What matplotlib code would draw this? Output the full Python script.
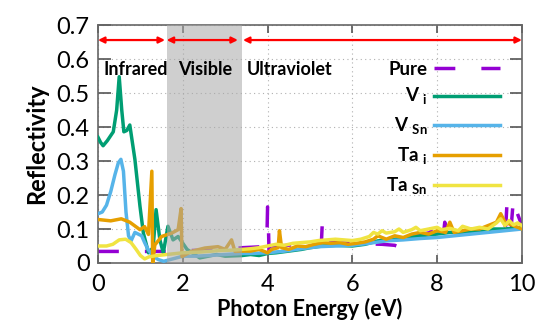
import matplotlib
matplotlib.use("Agg")
import matplotlib.pyplot as plt

plt.rcParams['font.family'] = ['Lato', 'DejaVu Sans']
plt.rcParams['mathtext.fontset'] = 'custom'
plt.rcParams['mathtext.rm'] = 'Lato'
plt.rcParams['mathtext.bf'] = 'Lato:bold'

# ---- data ----
pure_x = [0, 1.0, 1.5, 2.0, 2.5, 3.0, 3.4, 3.9, 3.98, 4.0, 4.02, 4.04, 4.06, 4.3, 4.7, 5.0,
          5.27, 5.29, 5.31, 5.33, 5.6, 6.0, 6.4, 6.7, 7.0, 7.15, 7.25, 7.35, 7.5, 7.85, 7.88,
          7.92, 7.95, 8.15, 8.18, 8.22, 8.25, 8.5, 9.0, 9.4, 9.62, 9.65, 9.7, 9.75, 9.8, 9.85, 10]
pure_y = [0.034, 0.034, 0.034, 0.036, 0.038, 0.04, 0.045, 0.048, 0.05, 0.165, 0.11, 0.0, 0.05,
          0.05, 0.055, 0.055, 0.06, 0.115, 0.075, 0.06, 0.06, 0.058, 0.056, 0.055, 0.052, 0.045,
          0.04, 0.06, 0.08, 0.09, 0.12, 0.105, 0.09, 0.085, 0.12, 0.062, 0.08, 0.09, 0.095, 0.1,
          0.11, 0.18, 0.14, 0.11, 0.19, 0.16, 0.11]

vi_x = [0, 0.06, 0.12, 0.22, 0.36, 0.44, 0.5, 0.56, 0.61, 0.68, 0.75, 0.87, 0.99, 1.07, 1.19,
        1.3, 1.37, 1.46, 1.54, 1.65, 1.77, 1.89, 2.1, 2.4, 2.8, 3.0, 3.4,
        3.6, 3.8, 4.0, 4.2, 4.5, 4.8, 5.0, 5.3, 5.6, 6.0, 6.3, 6.6, 7.0, 7.3, 7.6, 8.0, 8.3,
        8.6, 9.0, 9.3, 9.6, 10]
vi_y = [0.37, 0.355, 0.345, 0.36, 0.386, 0.45, 0.548, 0.45, 0.386, 0.39, 0.406, 0.305, 0.167,
        0.088, 0.03, 0.045, 0.157, 0.068, 0.03, 0.108, 0.068, 0.078, 0.04, 0.015, 0.025, 0.02,
        0.022, 0.025, 0.022, 0.028, 0.03, 0.035, 0.04, 0.045, 0.05, 0.052, 0.05, 0.055, 0.065,
        0.07, 0.075, 0.08, 0.085, 0.09, 0.09, 0.095, 0.1, 0.1, 0.105]

vsn_x = [0, 0.1, 0.2, 0.3, 0.4, 0.48, 0.54, 0.6, 0.66, 0.72, 0.78, 0.87, 0.95, 1.03, 1.1, 1.18,
         1.3, 1.42, 1.55, 1.7, 1.85, 2.0, 2.3, 2.6, 3.0, 3.4,
         3.6, 4.0, 4.4, 4.8, 5.2, 5.6, 6.0, 6.4, 6.8, 7.2, 7.6, 8.0, 8.4, 8.8, 9.2, 9.6, 10]
vsn_y = [0.145, 0.15, 0.17, 0.21, 0.26, 0.295, 0.305, 0.27, 0.15, 0.08, 0.065, 0.09, 0.085,
         0.08, 0.06, 0.04, 0.02, 0.01, 0.005, 0.01, 0.015, 0.02, 0.02, 0.022, 0.025, 0.028,
         0.028, 0.03, 0.035, 0.042, 0.048, 0.05, 0.052, 0.058, 0.065, 0.068, 0.072, 0.075,
         0.08, 0.085, 0.09, 0.095, 0.1]

tai_x = [0, 0.3, 0.55, 0.75, 0.99, 1.1, 1.19, 1.27, 1.29, 1.34, 1.5, 1.74, 1.89, 1.96, 1.98,
         2.2, 2.52, 2.83, 3.0, 3.15, 3.23, 3.4,
         3.6, 3.8, 4.0, 4.1, 4.25, 4.28, 4.33, 4.5, 4.7, 4.9, 5.1, 5.3, 5.5, 5.7, 5.9, 6.1, 6.3,
         6.5, 6.6, 6.8, 7.0, 7.2, 7.4, 7.6, 7.8, 8.0, 8.2, 8.3, 8.4, 8.6, 8.8, 9.0, 9.2, 9.4,
         9.5, 9.6, 9.8, 10]
tai_y = [0.128, 0.124, 0.13, 0.12, 0.098, 0.107, 0.084, 0.27, 0.0, 0.053, 0.078, 0.088, 0.098,
         0.16, 0.019, 0.034, 0.044, 0.048, 0.04, 0.068, 0.034, 0.035,
         0.035, 0.04, 0.03, 0.04, 0.045, 0.095, 0.045, 0.04, 0.05, 0.048, 0.055, 0.06, 0.058,
         0.06, 0.055, 0.058, 0.062, 0.07, 0.08, 0.07, 0.08, 0.075, 0.085, 0.09, 0.085, 0.095,
         0.09, 0.12, 0.09, 0.095, 0.1, 0.1, 0.11, 0.12, 0.145, 0.12, 0.11, 0.1]

tasn_x = [0, 0.2, 0.35, 0.5, 0.65, 0.78, 0.9, 1.0, 1.1, 1.2, 1.4, 1.7, 2.0, 2.4, 2.8, 3.2, 3.4,
          3.6, 3.8, 4.0, 4.2, 4.4, 4.6, 4.8, 5.0, 5.2, 5.4, 5.6, 5.8, 6.0, 6.2, 6.4, 6.5, 6.6,
          6.7, 6.8, 7.0, 7.1, 7.2, 7.4, 7.5, 7.6, 7.8, 8.0, 8.1, 8.3, 8.5, 8.6, 8.8, 9.0, 9.2,
          9.4, 9.5, 9.6, 9.7, 9.8, 9.9, 10]
tasn_y = [0.05, 0.05, 0.055, 0.068, 0.07, 0.06, 0.04, 0.022, 0.012, 0.018, 0.022, 0.026, 0.03,
          0.032, 0.036, 0.038, 0.04,
          0.042, 0.045, 0.05, 0.055, 0.052, 0.058, 0.06, 0.062, 0.066, 0.068, 0.07, 0.068,
          0.066, 0.07, 0.078, 0.09, 0.085, 0.095, 0.088, 0.092, 0.1, 0.09, 0.098, 0.105, 0.095,
          0.1, 0.105, 0.098, 0.102, 0.095, 0.108, 0.1, 0.105, 0.1, 0.118, 0.13, 0.11, 0.125,
          0.112, 0.118, 0.11]

series = [
    ("Pure", pure_x, pure_y, "#9400d3"),
    (r"$\mathbf{V}$ $_{\mathbf{i}}$", vi_x, vi_y, "#009e73"),
    (r"$\mathbf{V}$ $_{\mathbf{Sn}}$", vsn_x, vsn_y, "#56b4e9"),
    (r"$\mathbf{Ta}$ $_{\mathbf{i}}$", tai_x, tai_y, "#e69f00"),
    (r"$\mathbf{Ta}$ $_{\mathbf{Sn}}$", tasn_x, tasn_y, "#f0e442"),
]

visible_band = (1.62, 3.4)
regions = [("Infrared", 0.0, 1.58), ("Visible", 1.62, 3.3), ("Ultraviolet", 3.42, 10.0)]
region_text_x = [0.12, 1.9, 3.5]

fig = plt.figure(figsize=(5.4, 3.25), dpi=100)
ax = fig.add_axes([0.1815, 0.1908, 0.785, 0.732])

for i, (label, x, y, c) in enumerate(series):
    if i == 0:
        ax.plot(x, y, color=c, lw=2.5, ls=(0, (6, 7.5)), label=label, zorder=2)
    else:
        ax.plot(x, y, color=c, lw=2.5, label=label, zorder=2 + i)

ax.axvspan(visible_band[0], visible_band[1], color="#a8a8a8", alpha=0.55, lw=0, zorder=10)

for (name, x0, x1), tx in zip(regions, region_text_x):
    ax.annotate("", xy=(x1, 0.656), xytext=(x0, 0.656),
                arrowprops=dict(arrowstyle="<|-|>", color="red", lw=1.6,
                                mutation_scale=9, shrinkA=0, shrinkB=0), zorder=12)
    ax.text(tx, 0.57, name, fontsize=13, fontweight="bold", va="center", ha="left", zorder=12)

ax.set_xlim(0, 10)
ax.set_ylim(0, 0.7)
ax.set_xticks([0, 2, 4, 6, 8, 10])
ax.set_yticks([0, 0.1, 0.2, 0.3, 0.4, 0.5, 0.6, 0.7])
ax.set_yticklabels(["0", "0.1", "0.2", "0.3", "0.4", "0.5", "0.6", "0.7"])
ax.tick_params(axis="both", direction="in", top=True, right=True, labelsize=17,
               color="#555555", width=1.2)
ax.tick_params(axis="x", length=6, pad=8)
ax.tick_params(axis="y", length=9, pad=6)
for s in ax.spines.values():
    s.set_color("#666666")
    s.set_linewidth(1.2)
ax.grid(True, color="#b0b0b0", ls=(0, (1, 3)), lw=0.8)

ax.set_xlabel("Photon Energy (eV)", fontsize=15.5, fontweight="bold", labelpad=2)
ax.set_ylabel("Reflectivity", fontsize=17, fontweight="bold", labelpad=6)

leg = ax.legend(loc="upper right", bbox_to_anchor=(0.97, 0.89), markerfirst=False,
                frameon=False, handlelength=3.5, labelspacing=0.45, borderpad=0,
                handletextpad=0.35, prop={"weight": "bold", "size": 13.5})

fig.savefig("out.png", dpi=100)
